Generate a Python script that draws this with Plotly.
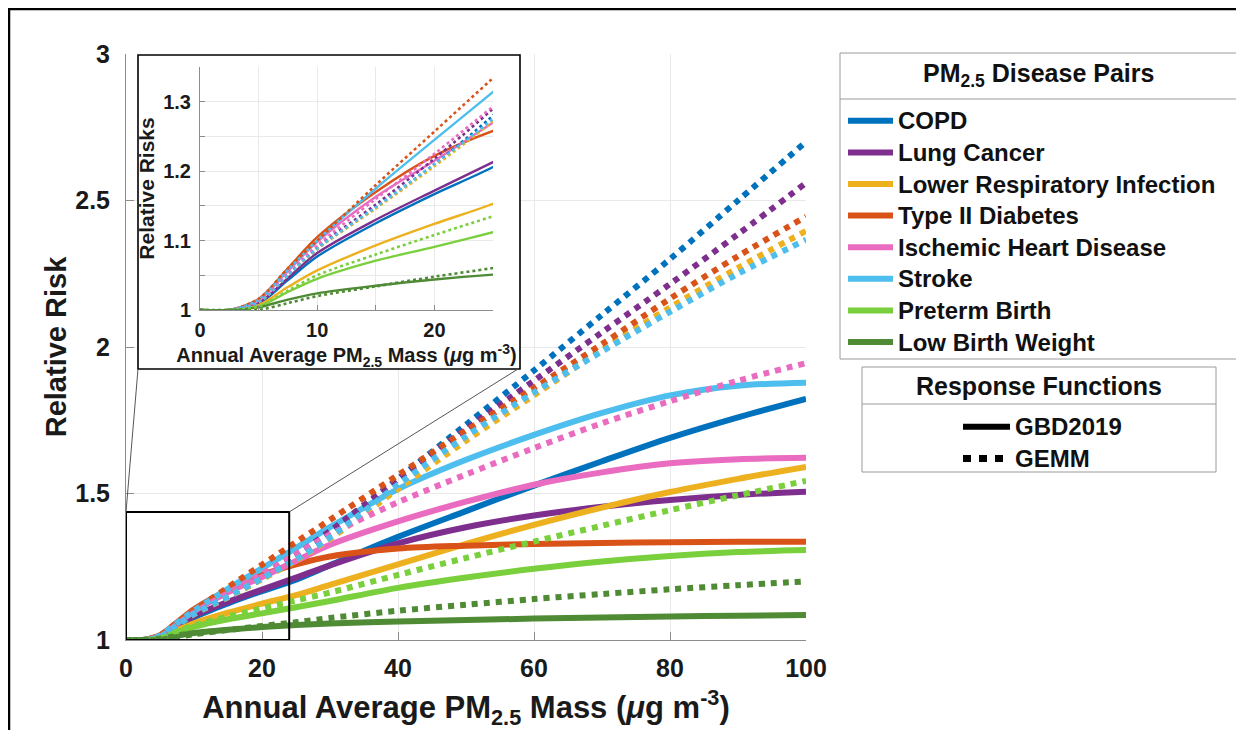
import plotly.graph_objects as go

# ---------------- data ----------------
conc = [0, 2.5, 5, 7.5, 10, 15, 20, 25, 30, 40, 50, 60, 70, 80, 90, 100]

diseases = ["COPD", "Lung Cancer", "Lower Respiratory Infection", "Type II Diabetes",
            "Ischemic Heart Disease", "Stroke", "Preterm Birth", "Low Birth Weight"]
colors = ["#0072BD", "#7E2F8E", "#EDB120", "#D95319", "#EA6CC0", "#4DBEEE", "#7ACF3C", "#4F8A35"]

# GBD2019 (solid)
gbd_copd   = [1, 1, 1.009, 1.043, 1.077, 1.125, 1.167, 1.206, 1.255, 1.352, 1.440, 1.527, 1.610, 1.690, 1.760, 1.823]
gbd_lc     = [1, 1, 1.010, 1.046, 1.082, 1.130, 1.172, 1.213, 1.255, 1.330, 1.385, 1.425, 1.455, 1.478, 1.495, 1.506]
gbd_lri    = [1, 1, 1.007, 1.033, 1.057, 1.093, 1.124, 1.153, 1.188, 1.258, 1.328, 1.393, 1.452, 1.505, 1.550, 1.591]
gbd_t2d    = [1, 1, 1.016, 1.060, 1.105, 1.170, 1.222, 1.258, 1.285, 1.312, 1.322, 1.328, 1.331, 1.334, 1.335, 1.335]
gbd_ihd    = [1, 1, 1.014, 1.056, 1.098, 1.163, 1.215, 1.270, 1.325, 1.405, 1.472, 1.530, 1.572, 1.603, 1.617, 1.622]
gbd_stroke = [1, 1, 1.015, 1.058, 1.100, 1.175, 1.245, 1.314, 1.385, 1.515, 1.615, 1.700, 1.775, 1.835, 1.868, 1.878]
gbd_pb     = [1, 1, 1.005, 1.026, 1.045, 1.071, 1.091, 1.112, 1.133, 1.178, 1.213, 1.243, 1.268, 1.287, 1.300, 1.307]
gbd_lbw    = [1, 1, 1.004, 1.015, 1.024, 1.035, 1.044, 1.051, 1.056, 1.063, 1.068, 1.073, 1.077, 1.080, 1.083, 1.085]

# GEMM (dotted)
gemm_copd   = [1, 1, 1.011, 1.050, 1.088, 1.148, 1.210, 1.280, 1.360, 1.550, 1.735, 1.920, 2.110, 2.300, 2.500, 2.700]
gemm_lc     = [1, 1, 1.011, 1.050, 1.090, 1.152, 1.218, 1.290, 1.372, 1.550, 1.720, 1.885, 2.050, 2.215, 2.385, 2.560]
gemm_lri    = [1, 1, 1.011, 1.050, 1.088, 1.146, 1.207, 1.272, 1.345, 1.515, 1.680, 1.835, 1.990, 2.135, 2.270, 2.396]
gemm_t2d    = [1, 1, 1.016, 1.060, 1.100, 1.180, 1.257, 1.334, 1.410, 1.563, 1.715, 1.860, 2.010, 2.165, 2.310, 2.445]
gemm_ihd    = [1, 1, 1.012, 1.053, 1.093, 1.160, 1.225, 1.293, 1.360, 1.470, 1.565, 1.655, 1.740, 1.815, 1.885, 1.945]
gemm_stroke = [1, 1, 1.011, 1.050, 1.089, 1.148, 1.210, 1.275, 1.350, 1.530, 1.695, 1.845, 1.985, 2.120, 2.250, 2.366]
gemm_pb     = [1, 1, 1.005, 1.028, 1.050, 1.080, 1.108, 1.135, 1.162, 1.222, 1.280, 1.336, 1.390, 1.443, 1.494, 1.543]
gemm_lbw    = [1, 1, 1.000, 1.010, 1.020, 1.034, 1.048, 1.0605, 1.075, 1.100, 1.120, 1.140, 1.157, 1.173, 1.187, 1.200]

gbd = [gbd_copd, gbd_lc, gbd_lri, gbd_t2d, gbd_ihd, gbd_stroke, gbd_pb, gbd_lbw]
gemm = [gemm_copd, gemm_lc, gemm_lri, gemm_t2d, gemm_ihd, gemm_stroke, gemm_pb, gemm_lbw]

x_ticks = [0, 20, 40, 60, 80, 100]
y_ticks = [1, 1.5, 2, 2.5, 3]
y_ticktext = ["1", "1.5", "2", "2.5", "3"]
inset_x_ticks = [0, 5, 10, 15, 20, 25]
inset_x_text = ["0", "", "10", "", "20", ""]
inset_y_ticks = [1, 1.05, 1.1, 1.15, 1.2, 1.25, 1.3, 1.35]
inset_y_text = ["1", "", "1.1", "", "1.2", "", "1.3", ""]
zoom_x = [0, 24]
zoom_y = [1, 1.437]

# ---------------- layout geometry (page pixels; page has an 8px body margin) ----------------
OFF = 8
W, H = 1244 - 2 * OFF, 738 - 2 * OFF
PL, PR, PT, PB = 126, 806, 54, 640   # plot area in page pixels


def fx(px):
    return (px - PL) / (PR - PL)


def fy(py):
    return (PB - py) / (PB - PT)


FONT = "Liberation Sans, Arial, Helvetica, sans-serif"
AXC = "#8c8c8c"
GRID = "#e9e9e9"
XTITLE = "Annual Average PM<sub>2.5</sub> Mass (<i>\u03bc</i>g m<sup>-3</sup>)"


def big(s):
    return '<span style="font-size:24px">' + s + '</span>'


fig = go.Figure()

# main panel: GBD solid then GEMM dotted
for name, c, ys in zip(diseases, colors, gbd):
    fig.add_trace(go.Scatter(x=conc, y=ys, mode="lines", name=big(name), legend="legend",
                             line=dict(color=c, width=6, shape="spline", smoothing=0.9),
                             hoverinfo="skip"))
for name, c, ys in zip(diseases, colors, gemm):
    fig.add_trace(go.Scatter(x=conc, y=ys, mode="lines", name=name + " GEMM", showlegend=False,
                             line=dict(color=c, width=6, dash="dot", shape="spline", smoothing=0.9),
                             hoverinfo="skip"))

# white backing panel for the inset (its own subplot so it hides the main grid)
fig.add_trace(go.Scatter(x=[None], y=[None], xaxis="x2", yaxis="y2", showlegend=False,
                         hoverinfo="skip"))

# inset panel
for name, c, ys in zip(diseases, colors, gbd):
    fig.add_trace(go.Scatter(x=conc, y=ys, mode="lines", xaxis="x3", yaxis="y3", showlegend=False,
                             line=dict(color=c, width=2.4, shape="spline", smoothing=0.9),
                             hoverinfo="skip"))
for name, c, ys in zip(diseases, colors, gemm):
    fig.add_trace(go.Scatter(x=conc, y=ys, mode="lines", xaxis="x3", yaxis="y3", showlegend=False,
                             line=dict(color=c, width=2.6, dash="dot", shape="spline", smoothing=0.9),
                             hoverinfo="skip"))

# response-function legend entries
fig.add_trace(go.Scatter(x=[None], y=[None], mode="lines", name=big("GBD2019"), legend="legend2",
                         line=dict(color="black", width=6)))
fig.add_trace(go.Scatter(x=[None], y=[None], mode="lines", name=big("GEMM"), legend="legend2",
                         line=dict(color="black", width=7, dash="8px,8px")))

axis_common = dict(ticks="inside", tickcolor=AXC, showline=True, linecolor=AXC, linewidth=1,
                   mirror=False, showgrid=True, gridcolor=GRID, gridwidth=1, zeroline=False)

fig.update_layout(
    width=W, height=H,
    margin=dict(l=PL - OFF, r=W - (PR - OFF), t=PT - OFF, b=H - (PB - OFF), autoexpand=False),
    paper_bgcolor="white", plot_bgcolor="white",
    font=dict(family=FONT, size=24, color="#1a1a1a", weight="bold"),
    xaxis=dict(domain=[0, 1], range=[0, 100], tickvals=x_ticks, ticklen=8,
               tickfont=dict(size=25), ticklabelstandoff=6,
               title=dict(text=XTITLE, font=dict(size=31), standoff=22), **axis_common),
    yaxis=dict(domain=[0, 1], range=[1, 3], tickvals=y_ticks, ticktext=y_ticktext, ticklen=8,
               tickfont=dict(size=25), ticklabelstandoff=10,
               title=dict(text="Relative Risk", font=dict(size=29), standoff=0), **axis_common),
    xaxis2=dict(domain=[fx(138), fx(520)], range=[0, 1], visible=False, anchor="y2"),
    yaxis2=dict(domain=[fy(369), fy(55)], range=[0, 1], visible=False, anchor="x2"),
    xaxis3=dict(domain=[fx(200), fx(493)], range=[0, 25], anchor="y3", tickvals=inset_x_ticks,
                ticktext=inset_x_text, ticklen=5, tickfont=dict(size=20), ticklabelstandoff=2,
                title=dict(text=XTITLE, font=dict(size=20), standoff=2), **axis_common),
    yaxis3=dict(domain=[fy(310), fy(67)], range=[1, 1.35], anchor="x3", tickvals=inset_y_ticks,
                ticktext=inset_y_text, ticklen=5, tickfont=dict(size=20), ticklabelstandoff=4,
                title=dict(text="Relative Risks", font=dict(size=21), standoff=2), **axis_common),
    legend=dict(x=fx(843), y=fy(100), xanchor="left", yanchor="top", bgcolor="rgba(0,0,0,0)",
                borderwidth=0, font=dict(size=22, color="#111"), itemwidth=45, tracegroupgap=0,
                traceorder="normal"),
    legend2=dict(x=fx(958), y=fy(406), xanchor="left", yanchor="top", bgcolor="rgba(0,0,0,0)",
                 borderwidth=0, font=dict(size=22, color="#111"), itemwidth=47, tracegroupgap=0,
                 traceorder="normal"),
)

LEG_C = "#9a9a9a"
shapes = [
    # figure frame (top and left edges visible)
    dict(type="rect", xref="paper", yref="paper", x0=fx(9), x1=fx(1400), y0=fy(9), y1=fy(900),
         line=dict(color="black", width=2.5), fillcolor="rgba(0,0,0,0)", layer="above"),
    # inset frame
    dict(type="rect", xref="paper", yref="paper", x0=fx(138), x1=fx(520), y0=fy(369), y1=fy(55),
         line=dict(color="black", width=1.6), fillcolor="rgba(0,0,0,0)", layer="above"),
    # zoom region on main axes
    dict(type="rect", xref="x", yref="y", x0=zoom_x[0], x1=zoom_x[1], y0=zoom_y[0], y1=zoom_y[1],
         line=dict(color="black", width=2), fillcolor="rgba(0,0,0,0)", layer="above"),
    # connectors
    dict(type="line", xref="paper", yref="paper", x0=zoom_x[0] / 100, y0=(zoom_y[1] - 1) / 2,
         x1=fx(138), y1=fy(369), line=dict(color="#555", width=1), layer="above"),
    dict(type="line", xref="paper", yref="paper", x0=zoom_x[1] / 100, y0=(zoom_y[1] - 1) / 2,
         x1=fx(518), y1=fy(369), line=dict(color="#555", width=1), layer="above"),
    # legend boxes
    dict(type="rect", xref="paper", yref="paper", x0=fx(840), x1=fx(1237), y0=fy(359), y1=fy(53),
         line=dict(color=LEG_C, width=1), fillcolor="rgba(0,0,0,0)", layer="above"),
    dict(type="line", xref="paper", yref="paper", x0=fx(840), x1=fx(1237), y0=fy(99), y1=fy(99),
         line=dict(color=LEG_C, width=1), layer="above"),
    dict(type="rect", xref="paper", yref="paper", x0=fx(862), x1=fx(1216), y0=fy(472), y1=fy(367),
         line=dict(color=LEG_C, width=1), fillcolor="rgba(0,0,0,0)", layer="above"),
    dict(type="line", xref="paper", yref="paper", x0=fx(862), x1=fx(1216), y0=fy(404), y1=fy(404),
         line=dict(color=LEG_C, width=1), layer="above"),
]
fig.update_layout(shapes=shapes)

fig.update_layout(annotations=[
    dict(text="PM<sub>2.5</sub> Disease Pairs", xref="paper", yref="paper",
         x=fx(1038), y=fy(75), xanchor="center", yanchor="middle", showarrow=False,
         font=dict(size=25, color="#111")),
    dict(text="Response Functions", xref="paper", yref="paper",
         x=fx(1039), y=fy(386), xanchor="center", yanchor="middle", showarrow=False,
         font=dict(size=25, color="#111")),
])

fig.write_html("out.html")
